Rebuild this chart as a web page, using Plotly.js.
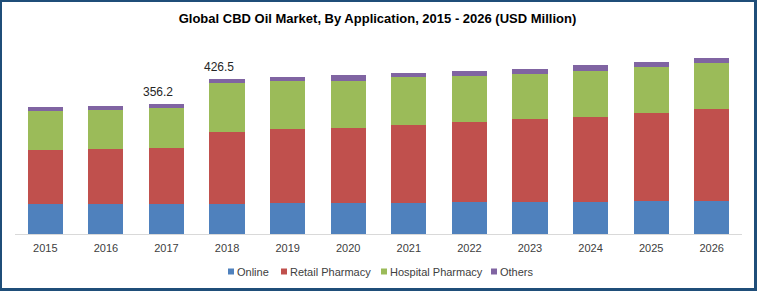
<!DOCTYPE html>
<html>
<head>
<meta charset="utf-8">
<script src="https://cdn.plot.ly/plotly-3.0.1.min.js"></script>
<style>
  html, body { margin: 0; padding: 0; background: #ffffff; }
  #wrap { position: relative; width: 760px; height: 294px; }
  #chart { position: absolute; left: 0; top: 0; width: 760px; height: 294px; }
  #frame {
    position: absolute; left: 0; top: 0; width: 757px; height: 291px;
    box-sizing: border-box; border-style: solid; border-color: #1F4E79;
    border-width: 2px 3px 3px 2px; pointer-events: none;
  }
</style>
</head>
<body>
<div id="wrap">
  <div id="chart"></div>
  <div id="frame"></div>
</div>
<script>
// Global CBD oil market by application, USD million
const years = ['2015', '2016', '2017', '2018', '2019', '2020',
               '2021', '2022', '2023', '2024', '2025', '2026'];

const online           = [82.5, 82.5, 82.5, 82.5, 85.3, 85.3, 85.3, 88.0, 88.0, 88.0, 90.8, 90.8];
const retailPharmacy   = [147.5, 151.0, 153.6, 199.2, 203.1, 207.3, 213.9, 219.7, 228.1, 234.6, 242.0, 253.0];
const hospitalPharmacy = [108.3, 107.5, 109.1, 133.8, 132.4, 129.5, 131.2, 126.8, 125.2, 127.0, 126.5, 126.5];
const others           = [11.0, 11.8, 11.0, 11.0, 11.0, 13.8, 11.0, 13.8, 13.8, 13.8, 13.8, 13.8];

const seriesNames  = ['Online', 'Retail Pharmacy', 'Hospital Pharmacy', 'Others'];
const seriesColors = ['#4F81BD', '#C0504D', '#9BBB59', '#8064A2'];

// Years whose stack total is printed above the bar
const labelledYears = ['2017', '2018'];

const seriesValues = [online, retailPharmacy, hospitalPharmacy, others];

const traces = seriesValues.map((vals, i) => ({
  type: 'bar',
  name: seriesNames[i],
  x: years,
  y: vals,
  marker: { color: seriesColors[i], line: { width: 0 } },
  showlegend: false,
  hoverinfo: 'x+y+name'
}));

const totals = years.map((_, j) => seriesValues.reduce((s, arr) => s + arr[j], 0));

const FONT = '"Liberation Sans", Arial, sans-serif';

// Plot-area geometry used to place the hand-built legend
const W = 760, H = 294;
const M = { l: 15, r: 18, t: 40, b: 60 };
const plotW = W - M.l - M.r;
const plotH = H - M.t - M.b;
const px2paperX = px => (px - M.l) / plotW;
const px2paperY = py => (H - M.b - py) / plotH;

// Total labels, placed by category index on the x axis
const annotations = labelledYears.map(yr => {
  const j = years.indexOf(yr);
  return {
    x: j, y: totals[j], xref: 'x', yref: 'y',
    text: totals[j].toFixed(1),
    showarrow: false, yanchor: 'bottom', xanchor: 'center',
    xshift: -8, yshift: 3,
    font: { family: FONT, size: 12, color: '#262626' }
  };
});

// Legend: small colour squares followed by the series name
const legendSquareX = [231, 284, 384, 494];
const legendY = 271.5;
const shapes = [];
seriesNames.forEach((nm, i) => {
  shapes.push({
    type: 'rect', xref: 'paper', yref: 'paper',
    xsizemode: 'pixel', ysizemode: 'pixel',
    xanchor: px2paperX(legendSquareX[i]), yanchor: px2paperY(legendY),
    x0: -3, x1: 3, y0: -3, y1: 3,
    fillcolor: seriesColors[i], line: { width: 0 }
  });
  annotations.push({
    xref: 'paper', yref: 'paper',
    x: px2paperX(legendSquareX[i] + 4), y: px2paperY(legendY),
    xanchor: 'left', yanchor: 'middle', showarrow: false,
    text: nm,
    font: { family: FONT, size: 11, color: '#404040' }
  });
});

const layout = {
  width: W, height: H,
  margin: M,
  paper_bgcolor: '#ffffff',
  plot_bgcolor: '#ffffff',
  barmode: 'stack',
  bargap: 0.42,
  showlegend: false,
  title: {
    text: 'Global CBD Oil Market, By Application, 2015 - 2026 (USD Million)',
    font: { family: FONT, size: 13, color: '#000000', weight: 700 },
    x: 0.4967, xanchor: 'center', xref: 'container',
    y: 1 - 18 / H, yanchor: 'middle', yref: 'container'
  },
  xaxis: {
    type: 'category',
    categoryorder: 'array', categoryarray: years,
    range: [-0.5, years.length - 0.5], autorange: false,
    showline: true, linecolor: '#D9D9D9', linewidth: 1,
    showgrid: false, zeroline: false, ticks: '',
    ticklabelstandoff: 4,
    tickfont: { family: FONT, size: 11, color: '#404040' },
    fixedrange: true
  },
  yaxis: {
    range: [0, plotH * 2.75], autorange: false,
    visible: false, showgrid: false, zeroline: false,
    fixedrange: true
  },
  annotations: annotations,
  shapes: shapes
};

Plotly.newPlot('chart', traces, layout, { displayModeBar: false, staticPlot: true });
</script>
</body>
</html>
